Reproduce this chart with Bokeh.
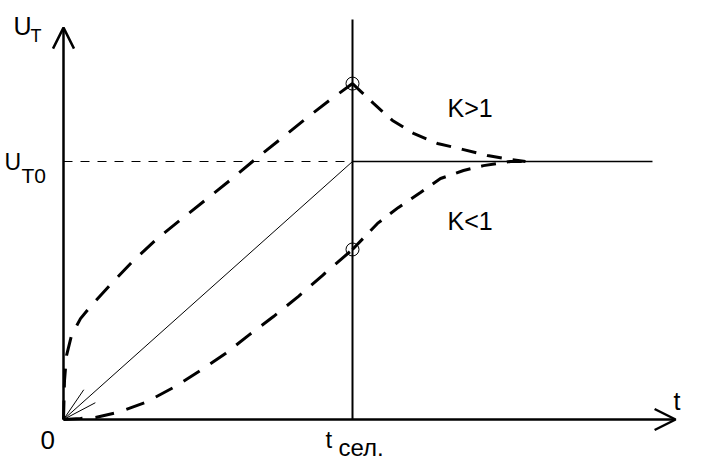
import numpy as np
from bokeh.plotting import figure
from bokeh.models import Range1d, Arrow, OpenHead
from bokeh.core.properties import value
from bokeh.embed import file_html
from bokeh.resources import INLINE

# ---- data (t in units of t_sel, U in units of U_T0) ----
t_sel = 1.0
U_T0 = 1.0
t_end = 2.038          # end of the steady-state line
t_axis_end = 2.118
U_axis_end = 1.519
U_vline_top = 1.55

up_before_t = [0.0, 0.0035, 0.0104, 0.0277, 0.0588, 0.0934, 0.1626, 0.2388, 0.3253,
               0.4152, 0.5017, 0.5882, 0.6713, 0.7578, 0.8443, 0.9239, 1.0]
up_before_u = [0.0, 0.151, 0.248, 0.326, 0.391, 0.438, 0.523, 0.612, 0.702,
               0.783, 0.860, 0.938, 1.016, 1.093, 1.171, 1.240, 1.302]
up_after_t = [1.0, 1.0727, 1.1384, 1.2111, 1.2941, 1.3806, 1.4671, 1.5467, 1.5986]
up_after_u = [1.302, 1.225, 1.159, 1.109, 1.070, 1.047, 1.023, 1.008, 1.0]

lo_before_t = [0.0, 0.0588, 0.1107, 0.1869, 0.2837, 0.3806, 0.4740, 0.5606, 0.6401,
               0.7266, 0.8131, 0.8997, 1.0]
lo_before_u = [0.0, 0.004, 0.008, 0.027, 0.066, 0.124, 0.190, 0.256, 0.326,
               0.399, 0.477, 0.562, 0.659]
lo_after_t = [1.0, 1.0865, 1.1592, 1.2353, 1.3045, 1.3841, 1.4533, 1.5467, 1.5986]
lo_after_u = [0.659, 0.760, 0.822, 0.880, 0.934, 0.965, 0.984, 1.0, 1.0]

marker_t = [t_sel, t_sel]
marker_u = [1.302, 0.659]

# ---- figure ----
W, H = 698, 461
SX, SY = 289.0, 258.0          # px per unit t, px per unit U
X0, Y0 = 63.0, 419.0           # origin position in the picture
XR = (-X0 / SX, (W - X0) / SX)
YR = ((Y0 - H) / SY, Y0 / SY)

p = figure(width=W, height=H, output_backend="svg", toolbar_location=None,
           x_range=Range1d(*XR), y_range=Range1d(*YR),
           min_border=0, min_border_left=0, min_border_right=0,
           min_border_top=0, min_border_bottom=0)
p.axis.visible = False
p.grid.visible = False
p.outline_line_color = None
p.background_fill_color = "white"
p.border_fill_color = "white"

K = "black"

# axes with open arrow heads
p.add_layout(Arrow(end=OpenHead(size=21, line_width=2.5, line_color=K),
                   x_start=0, y_start=0, x_end=t_axis_end, y_end=0,
                   line_width=2.5, line_color=K))
p.add_layout(Arrow(end=OpenHead(size=21, line_width=2.5, line_color=K),
                   x_start=0, y_start=0, x_end=0, y_end=U_axis_end,
                   line_width=2.5, line_color=K))

# vertical line at t_sel
p.line([t_sel, t_sel], [0, U_vline_top], line_width=2, line_color=K)

# U_T0 dashed reference line, steady state line
p.line([0, t_sel], [U_T0, U_T0], line_width=1, line_color=K, line_dash="9 8")
p.line([t_sel, t_end], [U_T0, U_T0], line_width=1.3, line_color=K)

# ideal (K=1) thin line with arrow at origin
p.line([0, t_sel], [0, U_T0], line_width=1, line_color=K)
ang = np.arctan2(U_T0 * SY, t_sel * SX)
L = 36.0
for da in (np.radians(14), -np.radians(14)):
    a = ang + da
    p.line([0, L * np.cos(a) / SX], [0, L * np.sin(a) / SY], line_width=1, line_color=K)

# dashed transient curves
p.line(up_before_t, up_before_u, line_width=3, line_color=K, line_dash="19 13")
p.line(up_after_t, up_after_u, line_width=3, line_color=K, line_dash="15 11")
p.line(lo_before_t, lo_before_u, line_width=3, line_color=K, line_dash="19 13")
p.line(lo_after_t, lo_after_u, line_width=3, line_color=K, line_dash="15 11")

p.scatter(marker_t, marker_u, marker="circle", size=13, fill_color=None,
          line_color=K, line_width=1)

# ---- texts ----
F = value("Liberation Sans")

def px_t(x):
    return (x - X0) / SX

def px_u(y):
    return (Y0 - y) / SY

def txt(x, y, s, size):
    p.text([px_t(x)], [px_u(y)], text=[s], text_font=F, text_font_size=f"{size}px",
           text_color=K, text_baseline="alphabetic", text_align="left")

txt(13, 25, "U", 25)
txt(30, 35, "T", 18)
txt(4, 161, "U", 23)
txt(21, 175, "T0", 21)
txt(40, 439, "0", 26)
txt(325, 439, "t", 24)
txt(338, 447, "сел.", 24)
txt(673, 400, "t", 25)
txt(447, 107, "K>1", 25)
txt(447, 220, "K<1", 25)

open("out.html", "w").write(file_html(p, INLINE))
